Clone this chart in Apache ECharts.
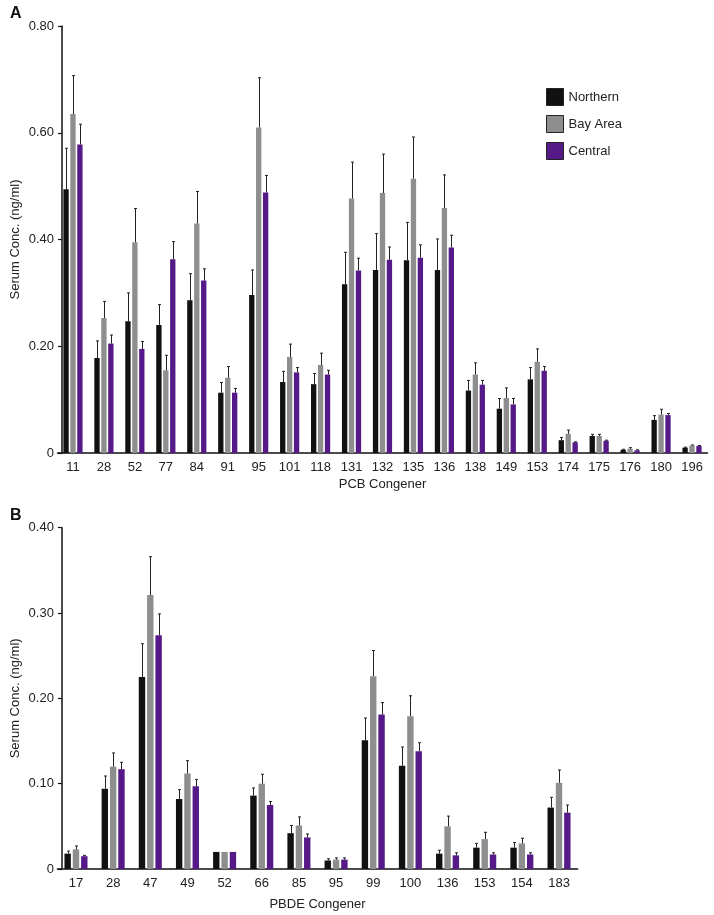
<!DOCTYPE html>
<html>
<head>
<meta charset="utf-8">
<script src="https://cdn.jsdelivr.net/npm/echarts@6/dist/echarts.min.js"></script>
<style>html,body{margin:0;padding:0;background:#fff}#c{width:714px;height:915px}</style>
</head>
<body>
<div id="c"></div>
<script>
// ---- Panel A: PCB congeners ----
var pcbCategories = ['11','28','52','77','84','91','95','101','118','131','132','135','136','138','149','153','174','175','176','180','196'];
var pcbNorthern     = [0.494,0.178,0.247,0.240,0.286,0.113,0.296,0.133,0.129,0.316,0.343,0.361,0.343,0.117,0.083,0.138,0.024,0.032,0.006,0.062,0.010];
var pcbNorthernErr  = [0.571,0.210,0.300,0.278,0.336,0.132,0.343,0.153,0.149,0.376,0.411,0.432,0.401,0.136,0.102,0.160,0.029,0.035,0.007,0.070,0.011];
var pcbBayArea      = [0.635,0.253,0.395,0.155,0.430,0.141,0.610,0.180,0.165,0.477,0.487,0.514,0.459,0.147,0.103,0.171,0.036,0.032,0.008,0.072,0.014];
var pcbBayAreaErr   = [0.707,0.284,0.458,0.183,0.490,0.162,0.703,0.204,0.187,0.545,0.560,0.592,0.521,0.169,0.122,0.195,0.043,0.035,0.010,0.082,0.015];
var pcbCentral      = [0.578,0.205,0.195,0.363,0.323,0.113,0.488,0.151,0.147,0.342,0.362,0.366,0.385,0.128,0.091,0.154,0.020,0.023,0.005,0.071,0.013];
var pcbCentralErr   = [0.616,0.221,0.209,0.396,0.345,0.121,0.520,0.160,0.155,0.365,0.386,0.390,0.408,0.136,0.102,0.162,0.021,0.024,0.006,0.074,0.014];

// ---- Panel B: PBDE congeners ----
var pbdeCategories = ['17','28','47','49','52','66','85','95','99','100','136','153','154','183'];
var pbdeNorthern    = [0.018,0.094,0.225,0.082,0.020,0.086,0.042,0.010,0.151,0.121,0.018,0.025,0.025,0.072];
var pbdeNorthernErr = [0.021,0.109,0.264,0.093,null,0.095,0.051,0.012,0.177,0.143,0.022,0.030,0.031,0.084];
var pbdeBayArea     = [0.023,0.120,0.321,0.112,0.020,0.100,0.051,0.011,0.226,0.179,0.050,0.035,0.030,0.101];
var pbdeBayAreaErr  = [0.027,0.136,0.366,0.127,null,0.111,0.061,0.013,0.256,0.203,0.062,0.043,0.036,0.116];
var pbdeCentral     = [0.015,0.117,0.274,0.097,0.020,0.075,0.037,0.011,0.181,0.138,0.016,0.017,0.017,0.066];
var pbdeCentralErr  = [0.016,0.125,0.299,0.105,null,0.079,0.041,0.013,0.195,0.148,0.019,0.019,0.019,0.075];

var seriesNames = ['Northern','Bay Area','Central'];
var seriesColors = ['#111111','#8e8e8e','#561a88'];

var FONT = '"Liberation Sans", Arial, sans-serif';
var TXT = '#222';
var CAT_GAP = 0.38, BAR_GAP = 0.30;

function errSeries(idx, gridIdx, vals, errs) {
  var data = vals.map(function (v, i) { return [i, v, errs[i]]; });
  return {
    type: 'custom', xAxisIndex: gridIdx, yAxisIndex: gridIdx, z: 5, silent: true,
    encode: { x: 0, y: 1 },
    data: data,
    renderItem: function (params, api) {
      var e = api.value(2);
      var v = api.value(1);
      if (e == null || isNaN(e) || e <= v) return null;
      var band = api.size([1, 0])[0];
      var w = band * (1 - CAT_GAP) / (3 + 2 * BAR_GAP);
      var off = (idx - 1) * w * (1 + BAR_GAP);
      var p0 = api.coord([api.value(0), v]);
      var p1 = api.coord([api.value(0), e]);
      var x = Math.round(p0[0] + off) + 0.5;
      var st = { stroke: '#222', lineWidth: 1 };
      return { type: 'group', children: [
        { type: 'line', shape: { x1: x, y1: p0[1], x2: x, y2: p1[1] }, style: st },
        { type: 'line', shape: { x1: x - 1.5, y1: p1[1], x2: x + 1.5, y2: p1[1] }, style: st }
      ]};
    }
  };
}

function barSeries(idx, gridIdx, vals) {
  return {
    name: seriesNames[idx], type: 'bar', xAxisIndex: gridIdx, yAxisIndex: gridIdx,
    data: vals, barCategoryGap: (CAT_GAP * 100) + '%', barGap: (BAR_GAP * 100) + '%',
    itemStyle: { color: seriesColors[idx] }, z: 2
  };
}

function xAx(gridIdx, cats, name, gap) {
  return {
    type: 'category', gridIndex: gridIdx, data: cats,
    name: name, nameLocation: 'middle', nameGap: gap, nameMoveOverlap: false,
    nameTextStyle: { fontFamily: FONT, fontSize: 13, color: TXT },
    axisLine: { lineStyle: { color: '#111', width: 1.5 } },
    axisTick: { alignWithLabel: true, length: 4, lineStyle: { color: '#111', width: 1.2 } },
    axisLabel: { fontFamily: FONT, fontSize: 13, color: TXT, margin: 8, interval: 0 },
    splitLine: { show: false }
  };
}

function yAx(gridIdx, max, interval, nameGap) {
  return {
    type: 'value', gridIndex: gridIdx, min: 0, max: max, interval: interval, offset: -4.5,
    name: 'Serum Conc. (ng/ml)', nameLocation: 'middle', nameGap: nameGap, nameMoveOverlap: false,
    nameTextStyle: { fontFamily: FONT, fontSize: 13, color: TXT },
    axisLine: { show: true, lineStyle: { color: '#111', width: 1.5 } },
    axisTick: { show: true, length: 4, lineStyle: { color: '#111', width: 1.2 } },
    axisLabel: { fontFamily: FONT, fontSize: 13, color: TXT, margin: 8,
      formatter: function (v) { return v === 0 ? '0' : v.toFixed(2); } },
    splitLine: { show: false }
  };
}

var chart = echarts.init(document.getElementById('c'), null, { renderer: 'canvas' });
chart.setOption({
  animation: false,
  backgroundColor: '#fff',
  textStyle: { fontFamily: FONT },
  grid: [
    { left: 57.5, right: 6.5, top: 26, height: 427, outerBoundsMode: 'none', containLabel: false },
    { left: 57.4, width: 520.2, top: 527.7, height: 341.3, outerBoundsMode: 'none', containLabel: false }
  ],
  legend: {
    data: seriesNames, orient: 'vertical', left: 541, top: 83,
    icon: 'rect',
    itemWidth: 17, itemHeight: 17, itemGap: 9,
    itemStyle: { borderColor: '#222', borderWidth: 1 },
    textStyle: { fontFamily: FONT, fontSize: 13, color: TXT }
  },
  graphic: [
    { type: 'text', left: 10, top: 6, style: { text: 'A', font: 'bold 16px ' + FONT, fill: '#111' } },
    { type: 'text', left: 10, top: 508, style: { text: 'B', font: 'bold 16px ' + FONT, fill: '#111' } }
  ],
  xAxis: [ xAx(0, pcbCategories, 'PCB Congener', 25), xAx(1, pbdeCategories, 'PBDE Congener', 29) ],
  yAxis: [ yAx(0, 0.8, 0.2, 40), yAx(1, 0.4, 0.1, 40) ],
  series: [
    barSeries(0, 0, pcbNorthern), barSeries(1, 0, pcbBayArea), barSeries(2, 0, pcbCentral),
    errSeries(0, 0, pcbNorthern, pcbNorthernErr), errSeries(1, 0, pcbBayArea, pcbBayAreaErr), errSeries(2, 0, pcbCentral, pcbCentralErr),
    barSeries(0, 1, pbdeNorthern), barSeries(1, 1, pbdeBayArea), barSeries(2, 1, pbdeCentral),
    errSeries(0, 1, pbdeNorthern, pbdeNorthernErr), errSeries(1, 1, pbdeBayArea, pbdeBayAreaErr), errSeries(2, 1, pbdeCentral, pbdeCentralErr)
  ]
});
</script>
</body>
</html>
